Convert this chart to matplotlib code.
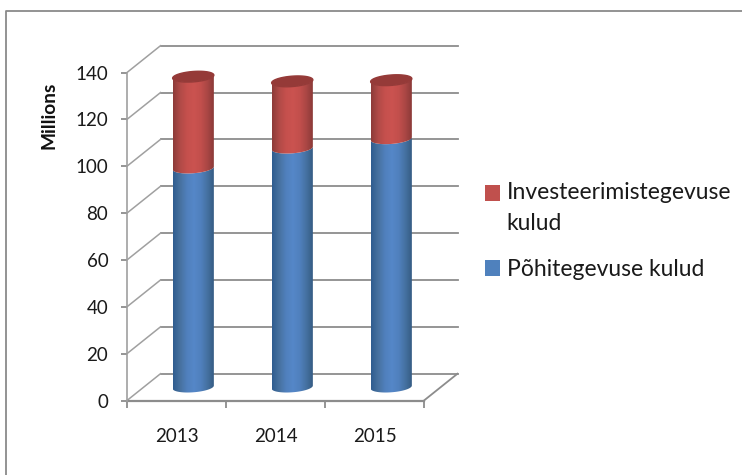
import numpy as np
import matplotlib
matplotlib.use("Agg")
import matplotlib.pyplot as plt
from matplotlib.colors import LinearSegmentedColormap
from matplotlib.patches import PathPatch, Patch
from matplotlib.path import Path

categories = ["2013", "2014", "2015"]
pohitegevuse = [93.5, 102, 106]
investeerimis = [39, 28.5, 25]
yticks = [0, 20, 40, 60, 80, 100, 120, 140]
label_blue = "Põhitegevuse kulud"
label_red = "Investeerimistegevuse\nkulud"

W, H = 742, 475
plt.rcParams["font.family"] = ["Lato", "DejaVu Sans"]
fig = plt.figure(figsize=(W / 100, H / 100), dpi=100, facecolor="white")
x0, x1, y0, y1 = 127, 424, 400.5, 72.5
ax = fig.add_axes([x0 / W, 1 - y0 / H, (x1 - x0) / W, (y0 - y1) / H])
ax.set_facecolor("none")
for s in ax.spines.values():
    s.set_visible(False)

GRID = "#8c8c8c"
dx = 33.5 / 99      # depth shift, in category units
dy = 26.8 / 2.343   # depth shift, in value units
hw = 20.6 / 99      # cylinder half width
eh = 5.2 / 2.343    # ellipse half height
tilt = 1.5 / 2.343  # perspective tilt of the ellipses

for v in yticks:
    ax.plot([dx, 3 + dx], [v + dy, v + dy], color=GRID, lw=1.3, clip_on=False, zorder=1)
    ax.plot([0, dx], [v, v + dy], color="#a0a0a0", lw=1.1, clip_on=False, zorder=1)
ax.plot([3, 3 + dx], [0, dy], color=GRID, lw=1.3, clip_on=False, zorder=1)
ax.plot([0, 3], [0, 0], color=GRID, lw=1.6, clip_on=False, zorder=2)
ax.plot([0, 0], [0, 140], color="#a0a0a0", lw=1.2, clip_on=False, zorder=2)


def arc(cx, v, front=True):
    t = np.linspace(np.pi, 2 * np.pi, 40) if front else np.linspace(0, np.pi, 40)
    c, s = np.cos(t), np.sin(t)
    return cx + hw * c, v + dy / 2 + eh * s + tilt * c


def segment(cx, v0, v1, cmap, z):
    xb, yb = arc(cx, v0)
    xt, yt = arc(cx, v1)
    xs = np.r_[xb, xt[::-1]]
    ys = np.r_[yb, yt[::-1]]
    verts = np.c_[xs, ys]
    verts = np.r_[verts, verts[:1]]
    patch = PathPatch(Path(verts), transform=ax.transData, fc="none", ec="none")
    ax.add_patch(patch)
    g = np.linspace(0, 1, 128)[None, :]
    im = ax.imshow(g, cmap=cmap, extent=[cx - hw, cx + hw, v0 - 6, v1 + dy + 6],
                   aspect="auto", zorder=z, vmin=0, vmax=1)
    im.set_clip_path(patch)


blue_map = LinearSegmentedColormap.from_list(
    "b", ["#2f5c8f", "#47719f", "#5080bd", "#5587c8", "#5080bd", "#44709f", "#33597f"])
red_map = LinearSegmentedColormap.from_list(
    "r", ["#8d3b39", "#b04a47", "#c5504d", "#cb5350", "#c24f4c", "#a84644", "#863836"])

for i, (b, r) in enumerate(zip(pohitegevuse, investeerimis)):
    cx = i + 0.5 + dx / 2
    segment(cx, 0, b, blue_map, 3)
    segment(cx, b, b + r, red_map, 4)
    tx, ty = arc(cx, b + r, True)
    ux, uy = arc(cx, b + r, False)
    cap = np.c_[np.r_[tx, ux], np.r_[ty, uy]]
    ax.fill(cap[:, 0], cap[:, 1], color="#953a38", zorder=5, clip_on=False)

ax.set_xlim(0, 3)
ax.set_ylim(0, 140)
ax.set_yticks(yticks)
ax.set_xticks([0, 1, 2, 3])
ax.set_xticks([0.5, 1.5, 2.5], minor=True)
ax.set_xticklabels([])
ax.set_xticklabels(categories, minor=True, fontsize=13.5, color="#1a1a1a")
ax.tick_params(axis="x", which="major", length=5, width=1.3, color=GRID)
ax.tick_params(axis="x", which="minor", length=0, pad=20)
ax.tick_params(axis="y", length=4.5, width=1.3, color=GRID, labelsize=13.5,
               labelcolor="#1a1a1a", pad=9)
ax.set_ylabel("Millions", fontsize=13.8, fontweight="bold", color="#111111")
ax.yaxis.set_label_coords((57 - x0) / (x1 - x0), (y0 - 115) / (y0 - y1))

fig.add_artist(plt.Line2D([6 / W, 6 / W, 1], [0, 1 - 10.5 / H, 1 - 10.5 / H],
                          color="#8a8a8a", lw=1.3, transform=fig.transFigure))

handles = [Patch(fc="#c0504d", ec="none"), Patch(fc="#4f81bd", ec="none")]
leg = fig.legend(handles, [label_red, label_blue], loc="upper left",
                 bbox_to_anchor=(478 / W, 1 - 175 / H), frameon=False,
                 fontsize=16.5, handlelength=0.66, handleheight=0.7,
                 handletextpad=0.3, labelspacing=1.09, labelcolor="#1a1a1a",
                 borderpad=0.3, borderaxespad=0)
for t in leg.get_texts():
    t.set_linespacing(1.57)
# the swatch of the two-line entry sits on its first line
leg.legend_handles[0].set_y(leg.legend_handles[0].get_y() + 10.8)
fig.savefig("out.png", dpi=100, facecolor="white")
